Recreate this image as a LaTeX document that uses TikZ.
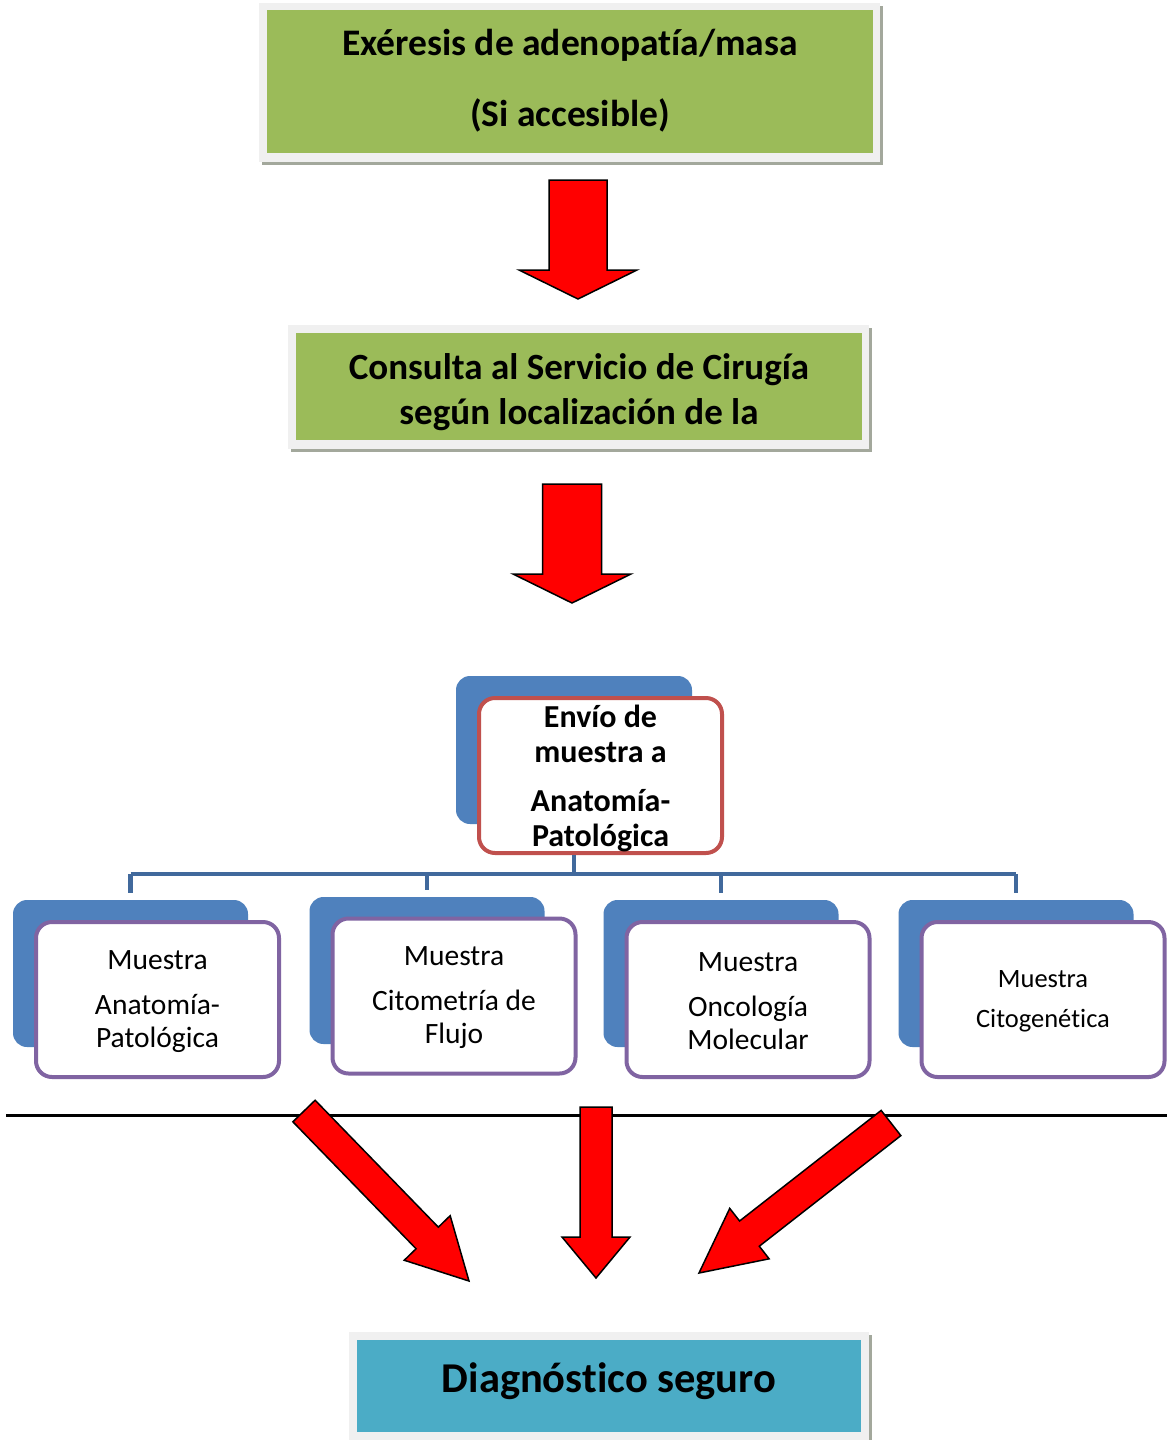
\documentclass[tikz,border=0pt]{standalone}
\usepackage{fontspec}
\setmainfont[Ligatures=NoCommon]{Carlito}
\usetikzlibrary{calc}
\definecolor{boxgreen}{HTML}{9BBB59}
\definecolor{boxblue}{HTML}{4F81BD}
\definecolor{boxred}{HTML}{C0504D}
\definecolor{boxpurple}{HTML}{8064A2}
\definecolor{boxteal}{HTML}{4BACC6}
\definecolor{connblue}{HTML}{41699C}
\definecolor{framegray}{HTML}{F0F0F0}
\definecolor{shadowgray}{HTML}{A3A89C}
\definecolor{arrred}{HTML}{FF0000}
\tikzset{
  flatbox/.style={draw=none, inner sep=0pt, align=center},
  backbox/.style={fill=boxblue, draw=none, rounded corners=14pt, minimum width=235pt, minimum height=147pt, inner sep=0pt},
  frontbox/.style={fill=white, draw=boxpurple, line width=4pt, rounded corners=16pt, minimum width=243pt, minimum height=155pt, inner sep=0pt, align=center, font=\fontsize{29.5}{33}\selectfont},
  conn/.style={draw=connblue, line width=4.5pt},
  redarrow/.style={fill=arrred, draw=black, line width=1.5pt, line join=miter},
}
\newcommand\blockarr[6]{%
  \coordinate (#1T) at #2; \coordinate (#1P) at #3;
  \coordinate (#1B) at ($(#1P)!#6!(#1T)$);
  \draw[redarrow] ($(#1T)!#4!90:(#1P)$) -- ($(#1B)!#4!90:(#1P)$) -- ($(#1B)!#5!90:(#1P)$) -- (#1P)
     -- ($(#1B)!#5!-90:(#1P)$) -- ($(#1B)!#4!-90:(#1P)$) -- ($(#1T)!#4!-90:(#1P)$) -- cycle;}
\begin{document}
\begin{tikzpicture}[x=1pt,y=-1pt]
\useasboundingbox (0,0) rectangle (1167,1440);
\fill[white] (0,0) rectangle (1167,1440);

% Box 1
\fill[shadowgray] (262,6) rectangle (883,165);
\fill[framegray] (259,3) rectangle (880,162);
\node[flatbox, fill=boxgreen, minimum width=606pt, minimum height=143pt] (exeresis) at (570,81.5) {};
\node[flatbox, font=\bfseries\fontsize{37.5}{71}\selectfont] (exeresistext) at (570,80.5)
  {Exéresis de adenopatía/masa\\(Si accesible)};

% Arrow 1
\blockarr{a1}{(578,180)}{(578,299)}{29pt}{59pt}{29pt}

% Box 2
\fill[shadowgray] (291,328) rectangle (872,452);
\fill[framegray] (288,325) rectangle (869,449);
\node[flatbox, fill=boxgreen, minimum width=566pt, minimum height=107pt] (consulta) at (579,386.5) {};
\node[flatbox, font=\bfseries\fontsize{37}{45}\selectfont] (consultatext) at (579,392)
  {Consulta al Servicio de Cirugía\\según localización de la};

% Arrow 2
\blockarr{a2}{(572,484)}{(572,603)}{29.5pt}{59pt}{29pt}

% Envio box
\node[backbox, minimum width=236pt, minimum height=148pt] (envioback) at (574,750) {};
\node[frontbox, draw=boxred] (envio) at (600.5,775.5) {};
\node[flatbox, font=\bfseries\fontsize{32}{35}\selectfont] (enviotext) at (600.5,778)
  {Envío de\\muestra a\\[14pt]Anatomía-\\Patológica};

% Child boxes
\node[backbox] (b1) at (130.5,973.5) {};
\node[backbox] (b2) at (427,970.5) {};
\node[backbox] (b3) at (721,973.5) {};
\node[backbox] (b4) at (1016,973.5) {};

\coordinate (bus) at (574,874);
\draw[conn] (envio.south -| bus) -- (bus);
\draw[conn] (b1.north |- bus) -- (b4.north |- bus);
\foreach \b in {b1,b2,b3,b4}
  \draw[conn] (\b.north |- bus) -- ($(\b.north)+(0,-7)$);

\node[frontbox] (c1) at (157.5,999.5) {};
\node[frontbox] (c2) at (454,996) {};
\node[frontbox] (c3) at (748,999.5) {};
\node[frontbox] (c4) at (1043,999.5) {};
\node[flatbox, font=\fontsize{29.5}{33}\selectfont] (t1) at (157.5,1001.5) {Muestra\\[12pt]Anatomía-\\Patológica};
\node[flatbox, font=\fontsize{29.5}{33}\selectfont] (t2) at (454,998) {Muestra\\[12pt]Citometría de\\Flujo};
\node[flatbox, font=\fontsize{29.5}{33}\selectfont] (t3) at (748,1001.5) {Muestra\\[12pt]Oncología\\Molecular};
\node[flatbox, font=\fontsize{26.5}{40}\selectfont] (t4) at (1043,1001.5) {Muestra\\Citogenética};

% Separator line
\coordinate (sepL) at (6,1115);
\coordinate (sepR) at (1167,1115);
\draw[black, line width=3pt] (sepL) -- (sepR);

% Bottom arrows
\blockarr{a3}{(304,1111)}{(469,1281)}{15.5pt}{32pt}{60pt}
\blockarr{a4}{(596,1107)}{(596,1278)}{16pt}{34pt}{41pt}
\blockarr{a5}{(891,1123)}{(699,1273)}{16pt}{32pt}{64pt}

% Diagnostico box
\fill[shadowgray] (352,1335) rectangle (872,1440);
\fill[framegray] (349,1332) rectangle (869,1440);
\node[flatbox, fill=boxteal, minimum width=504pt, minimum height=92pt] (diag) at (609,1386) {};
\node[flatbox, font=\bfseries\fontsize{42.5}{48}\selectfont] (diagtext) at (609,1381) {Diagnóstico seguro};
\end{tikzpicture}
\end{document}
